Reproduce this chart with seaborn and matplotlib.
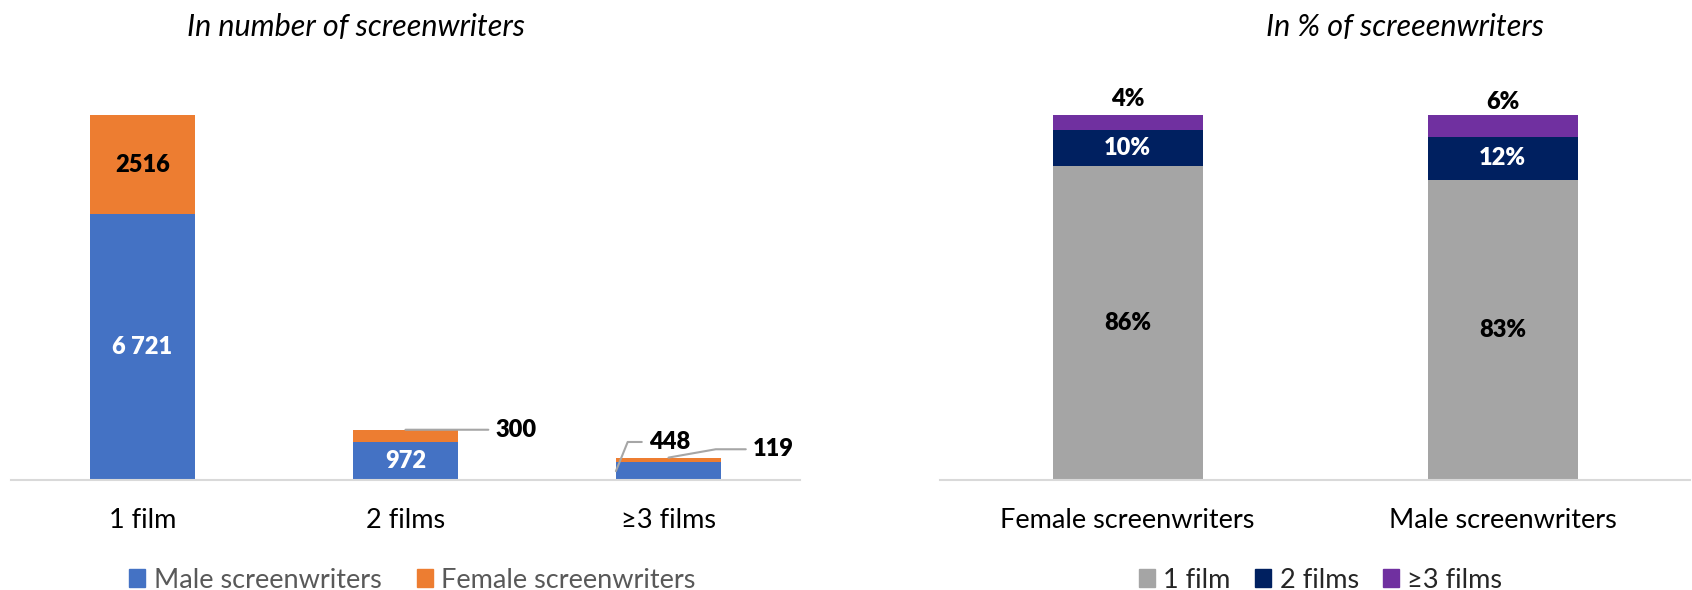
import numpy as np
import pandas as pd
import matplotlib
matplotlib.use("Agg")
import matplotlib.pyplot as plt
import seaborn as sns
from matplotlib.patches import Patch

# left chart: number of screenwriters by number of films
films = ['1 film', '2 films', '≥3 films']
male_counts = [6721, 972, 448]
female_counts = [2516, 300, 119]

# right chart: share of screenwriters (%)
genders = ['Female screenwriters', 'Male screenwriters']
share_1film = [86, 83]
share_2films = [10, 12]
share_3films = [4, 6]

blue, orange = '#4472C4', '#ED7D31'
grey, navy, purple = '#A5A5A5', '#002060', '#7030A0'
line_col = '#D9D9D9'
lead_col = '#A6A6A6'

sns.set_theme(style='white')
plt.rcParams['font.family'] = ['Lato', 'DejaVu Sans']

W, H = 1692, 590
fig = plt.figure(figsize=(W / 100, H / 100), dpi=100)

# ---------------- left: stacked counts ----------------
df1 = pd.DataFrame({'films': films, 'male': male_counts, 'female': female_counts})
df1['total'] = df1['male'] + df1['female']

ax1 = fig.add_axes([11 / W, 110 / H, 789 / W, 365 / H])
sns.barplot(data=df1, x='films', y='total', color=orange, width=0.4,
            saturation=1, edgecolor='none', ax=ax1)
sns.barplot(data=df1, x='films', y='male', color=blue, width=0.4,
            saturation=1, edgecolor='none', ax=ax1)
ax1.set_xlim(-0.5, 2.5)
ax1.set_ylim(0, df1['total'].max())

lab = dict(fontsize=17, fontweight='heavy', ha='center', va='center')
ax1.text(0, df1.male[0] / 2, f"{df1.male[0]:,}".replace(',', ' '), color='white', **lab)
ax1.text(0, df1.male[0] + df1.female[0] / 2, str(df1.female[0]), color='black', **lab)
ax1.text(1, df1.male[1] / 2, str(df1.male[1]), color='white', **lab)

lead = dict(arrowstyle='-', color=lead_col, lw=1.5, shrinkA=3, shrinkB=0)
ax1.annotate(str(df1.female[1]), xy=(1, df1.total[1]), xytext=(65, 0),
             textcoords='offset points', ha='left', va='center',
             fontsize=17, fontweight='heavy', color='black', arrowprops=lead)
ax1.annotate(str(df1.male[2]), xy=(2 - 0.2, df1.male[2] / 2), xytext=(24, 21),
             textcoords='offset points', ha='left', va='center',
             fontsize=17, fontweight='heavy', color='black',
             arrowprops=dict(connectionstyle='angle,angleA=0,angleB=68,rad=0', **lead))
ax1.annotate(str(df1.female[2]), xy=(2, df1.total[2]), xytext=(61, 6),
             textcoords='offset points', ha='left', va='center',
             fontsize=17, fontweight='heavy', color='black',
             arrowprops=dict(connectionstyle='angle,angleA=0,angleB=10,rad=0', **lead))

# ---------------- right: 100% stacked shares ----------------
df2 = pd.DataFrame({'gender': genders, 'f1': share_1film, 'f2': share_2films, 'f3': share_3films})
tot = df2[['f1', 'f2', 'f3']].sum(axis=1)
df2['c1'] = df2['f1'] / tot
df2['c2'] = (df2['f1'] + df2['f2']) / tot
df2['c3'] = (df2['f1'] + df2['f2'] + df2['f3']) / tot

ax2 = fig.add_axes([940 / W, 110 / H, 750 / W, 365 / H])
for col, c in [('c3', purple), ('c2', navy), ('c1', grey)]:
    sns.barplot(data=df2, x='gender', y=col, color=c, width=0.4,
                saturation=1, edgecolor='none', ax=ax2)
ax2.set_xlim(-0.5, 1.5)
ax2.set_ylim(0, 1)

for i in range(len(df2)):
    ax2.text(i, df2.c1[i] / 2, f"{df2.f1[i]}%", color='black', **lab)
    ax2.text(i, (df2.c1[i] + df2.c2[i]) / 2, f"{df2.f2[i]}%", color='white', **lab)
    ax2.annotate(f"{df2.f3[i]}%", xy=(i, (df2.c2[i] + df2.c3[i]) / 2), xytext=(0, 17),
                 textcoords='offset points', color='black', **lab)

for ax in (ax1, ax2):
    ax.set_xlabel('')
    ax.set_ylabel('')
    ax.set_yticks([])
    for s in ('top', 'left', 'right'):
        ax.spines[s].set_visible(False)
    ax.spines['bottom'].set_color(line_col)
    ax.spines['bottom'].set_linewidth(1.5)
    ax.tick_params(axis='x', length=0, pad=20, labelsize=19.5, labelcolor='black')

# titles
fig.text(330 / 1568, 1 - 27 / H, 'In number of screenwriters', ha='center', va='center',
         fontsize=22, fontstyle='italic', color='black')
fig.text(1302 / 1568, 1 - 27 / H, 'In % of screeenwriters', ha='center', va='center',
         fontsize=22, fontstyle='italic', color='black')

# legends
leg_kw = dict(loc='center', ncol=3, frameon=False, fontsize=19.5, handlelength=0.6,
              handleheight=0.6, handletextpad=0.3, columnspacing=1.3)
fig.legend(handles=[Patch(color=blue, label='Male screenwriters'),
                    Patch(color=orange, label='Female screenwriters')],
           bbox_to_anchor=(382 / 1568, 1 - 580 / H), labelcolor='#595959', **leg_kw)
fig.legend(handles=[Patch(color=grey, label='1 film'),
                    Patch(color=navy, label='2 films'),
                    Patch(color=purple, label='≥3 films')],
           bbox_to_anchor=(1224 / 1568, 1 - 580 / H), labelcolor='#262626',
           **{**leg_kw, 'columnspacing': 0.9})

fig.savefig('out.png', dpi=100)
